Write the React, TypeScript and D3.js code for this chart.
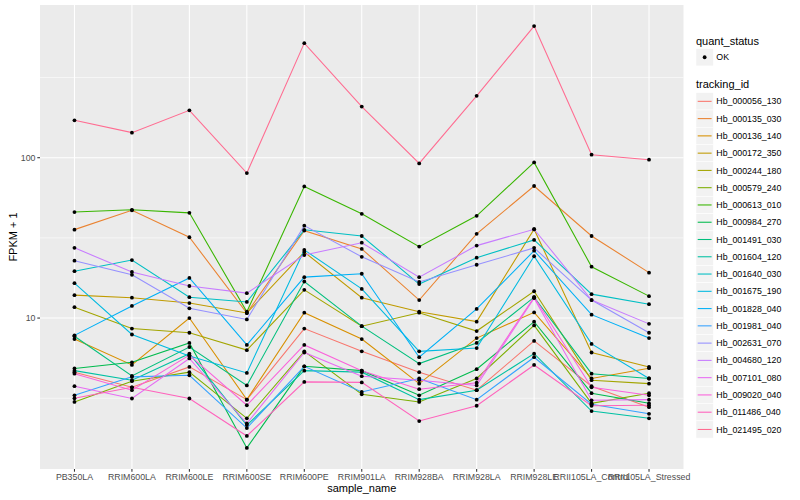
import React from "react";
import * as d3 from "d3";

// ---- data ----
const samples = [
  "PB350LA", "RRIM600LA", "RRIM600LE", "RRIM600SE", "RRIM600PE", "RRIM901LA",
  "RRIM928BA", "RRIM928LA", "RRIM928LE", "RRII105LA_Control", "RRII105LA_Stressed",
];

const trackingIds = [
  "Hb_000056_130", "Hb_000135_030", "Hb_000136_140", "Hb_000172_350", "Hb_000244_180",
  "Hb_000579_240", "Hb_000613_010", "Hb_000984_270", "Hb_001491_030", "Hb_001604_120",
  "Hb_001640_030", "Hb_001675_190", "Hb_001828_040", "Hb_001981_040", "Hb_002631_070",
  "Hb_004680_120", "Hb_007101_080", "Hb_009020_040", "Hb_011486_040", "Hb_021495_020",
];

// FPKM + 1 per sample (same order as samples)
const hb000056_130 = [4.6, 3.7, 4.96, 3.1, 8.6, 6.2, 4.6, 3.55, 7.2, 3.76, 2.78];
const hb000135_030 = [35.6, 47.0, 31.9, 10.75, 35.1, 27.0, 12.95, 33.5, 66.6, 32.5, 19.2];
const hb000136_140 = [7.4, 5.1, 10.0, 3.1, 10.8, 7.4, 3.9, 7.5, 10.85, 4.2, 4.87];
const hb000172_350 = [13.9, 13.4, 12.4, 10.75, 25.8, 13.4, 10.95, 9.5, 35.8, 6.1, 4.96];
const hb000244_180 = [11.7, 8.6, 8.1, 6.31, 15.0, 8.9, 10.8, 8.3, 14.7, 4.1, 3.9];
const hb000579_240 = [3.0, 4.04, 4.6, 2.37, 6.2, 3.35, 3.0, 4.2, 9.0, 2.94, 3.4];
const hb000613_010 = [45.8, 47.3, 45.3, 10.95, 66.2, 44.7, 27.9, 43.4, 93.5, 20.9, 13.7];
const hb000984_270 = [4.85, 5.3, 7.0, 1.55, 5.0, 4.7, 3.3, 4.8, 9.5, 3.4, 2.94];
const hb001491_030 = [7.7, 4.36, 6.6, 3.8, 16.9, 8.9, 5.2, 7.0, 13.5, 4.5, 4.2];
const hb001604_120 = [4.7, 4.1, 6.0, 2.15, 4.7, 4.6, 3.1, 3.55, 6.0, 2.63, 2.37];
const hb001640_030 = [19.6, 23.0, 13.5, 12.6, 35.5, 32.5, 16.3, 23.8, 30.7, 14.1, 12.2];
const hb001675_190 = [16.5, 7.9, 5.8, 4.55, 26.6, 15.2, 6.2, 6.5, 24.3, 6.9, 4.2];
const hb001828_040 = [7.8, 11.9, 17.8, 6.8, 18.0, 18.9, 5.7, 11.4, 26.3, 10.5, 7.5];
const hb001981_040 = [3.3, 4.3, 4.4, 2.06, 5.0, 3.46, 4.2, 3.1, 5.7, 2.9, 2.53];
const hb002631_070 = [22.8, 18.6, 11.5, 9.8, 37.7, 24.1, 16.8, 21.5, 27.4, 12.95, 8.1];
const hb004680_120 = [27.4, 19.4, 15.85, 14.3, 24.7, 29.5, 18.0, 28.3, 35.8, 12.95, 9.2];
const hb007101_080 = [3.76, 3.15, 5.6, 2.2, 6.1, 4.34, 4.1, 3.8, 13.3, 3.07, 3.1];
const hb009020_040 = [4.5, 3.55, 5.87, 2.86, 6.8, 4.7, 3.6, 3.95, 13.5, 3.7, 3.3];
const hb011486_040 = [3.16, 3.7, 3.15, 1.84, 4.0, 3.97, 2.28, 2.84, 5.1, 2.84, 2.86];
const hb021495_020 = [171.0, 143.3, 197.5, 80.2, 518.1, 208.3, 92.1, 243.0, 661.7, 104.4, 97.2];

const seriesValues = [
  hb000056_130, hb000135_030, hb000136_140, hb000172_350, hb000244_180,
  hb000579_240, hb000613_010, hb000984_270, hb001491_030, hb001604_120,
  hb001640_030, hb001675_190, hb001828_040, hb001981_040, hb002631_070,
  hb004680_120, hb007101_080, hb009020_040, hb011486_040, hb021495_020,
];

const yTicks = [10, 100];
const yMinor = [3.1623, 31.623, 316.23];
const quantStatus = ["OK"];

const palette = [
  "#F8766D", "#EA8331", "#D89000", "#C09B00", "#A3A500", "#7CAE00", "#39B600",
  "#00BB4E", "#00BF7D", "#00C1A3", "#00BFC4", "#00BAE0", "#00B0F6", "#35A2FF",
  "#9590FF", "#C77CFF", "#E76BF3", "#FA62DB", "#FF62BC", "#FF6C91",
];

const FONT = "'Liberation Sans', Arial, Helvetica, sans-serif";

export default function App() {
  const W = 800, H = 500;
  const pL = 40, pR = 683.5, pT = 5, pB = 469;

  const x = d3.scalePoint<string>().domain(samples).range([pL, pR]).padding(0.6);

  const all = seriesValues.flat();
  const lo = Math.log10(d3.min(all)!);
  const hi = Math.log10(d3.max(all)!);
  const pad = (hi - lo) * 0.05;
  const y = d3.scaleLog().domain([Math.pow(10, lo - pad), Math.pow(10, hi + pad)]).range([pB, pT]);

  const color = d3.scaleOrdinal<string, string>().domain(trackingIds).range(palette);

  const line = d3
    .line<number>()
    .x((_, i) => x(samples[i])!)
    .y((d) => y(d));

  const legX = 696;
  const keyW = 17.3;
  const keyStart = 92.7;

  return (
    <div style={{ position: "absolute", left: 0, top: 0 }}>
      <svg width={W} height={H} style={{ display: "block", fontFamily: FONT }}>
        <rect x={0} y={0} width={W} height={H} fill="#FFFFFF" />
        {/* panel */}
        <rect x={pL} y={pT} width={pR - pL} height={pB - pT} fill="#EBEBEB" />
        {yMinor.map((v) => (
          <line key={"m" + v} x1={pL} x2={pR} y1={y(v)} y2={y(v)} stroke="#FFFFFF" strokeWidth={0.55} />
        ))}
        {yTicks.map((v) => (
          <line key={"g" + v} x1={pL} x2={pR} y1={y(v)} y2={y(v)} stroke="#FFFFFF" strokeWidth={1.07} />
        ))}
        {samples.map((s) => (
          <line key={"gx" + s} x1={x(s)!} x2={x(s)!} y1={pT} y2={pB} stroke="#FFFFFF" strokeWidth={1.07} />
        ))}

        {/* lines */}
        {seriesValues.map((vals, i) => (
          <path key={"l" + i} d={line(vals)!} fill="none" stroke={color(trackingIds[i])} strokeWidth={1.07} />
        ))}
        {/* points */}
        {seriesValues.map((vals, i) =>
          vals.map((v, j) => (
            <circle key={"p" + i + "_" + j} cx={x(samples[j])!} cy={y(v)} r={1.9} fill="#000000" />
          ))
        )}

        {/* y axis */}
        {yTicks.map((v) => (
          <g key={"yt" + v}>
            <line x1={pL - 2.7} x2={pL} y1={y(v)} y2={y(v)} stroke="#333333" strokeWidth={1.07} />
            <text x={pL - 4.5} y={y(v) + 3.1} textAnchor="end" fontSize={8.8} fill="#4D4D4D">
              {v}
            </text>
          </g>
        ))}
        {/* x axis */}
        {samples.map((s) => (
          <g key={"xt" + s}>
            <line x1={x(s)!} x2={x(s)!} y1={pB} y2={pB + 2.7} stroke="#333333" strokeWidth={1.07} />
            <text x={x(s)!} y={pB + 10.6} textAnchor="middle" fontSize={8.8} fill="#4D4D4D">
              {s}
            </text>
          </g>
        ))}
        <text x={(pL + pR) / 2} y={492} textAnchor="middle" fontSize={11} fill="#000000">
          sample_name
        </text>
        <text transform={`translate(16.5, ${(pT + pB) / 2}) rotate(-90)`} textAnchor="middle" fontSize={11} fill="#000000">
          FPKM + 1
        </text>

        {/* legend: quant_status */}
        <text x={legX} y={44.8} fontSize={11} fill="#000000">quant_status</text>
        {quantStatus.map((q, i) => (
          <g key={"q" + q}>
            <rect x={legX} y={48.6 + i * keyW} width={keyW} height={keyW} fill="#F2F2F2" stroke="#FFFFFF" strokeWidth={0.5} />
            <circle cx={legX + keyW / 2} cy={48.6 + i * keyW + keyW / 2} r={1.9} fill="#000000" />
            <text x={legX + keyW + 3} y={48.6 + i * keyW + keyW / 2 + 3.1} fontSize={8.8} fill="#000000">
              {q}
            </text>
          </g>
        ))}

        {/* legend: tracking_id */}
        <text x={legX} y={88.2} fontSize={11} fill="#000000">tracking_id</text>
        {trackingIds.map((id, i) => {
          const ky = keyStart + i * 17.27;
          return (
            <g key={"k" + id}>
              <rect x={legX} y={ky} width={keyW} height={17.27} fill="#F2F2F2" stroke="#FFFFFF" strokeWidth={0.5} />
              <line x1={legX + 1.7} x2={legX + keyW - 1.7} y1={ky + 8.64} y2={ky + 8.64} stroke={color(id)} strokeWidth={1.07} />
              <text x={legX + keyW + 3} y={ky + 8.64 + 3.1} fontSize={8.8} fill="#000000">
                {id}
              </text>
            </g>
          );
        })}
      </svg>
    </div>
  );
}
